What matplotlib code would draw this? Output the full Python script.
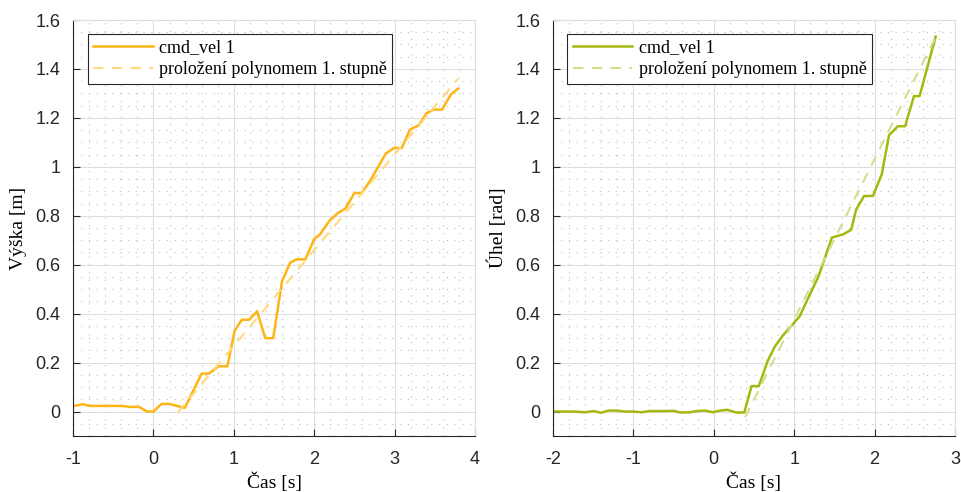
import numpy as np
import matplotlib
matplotlib.use('Agg')
import matplotlib.pyplot as plt
from matplotlib.ticker import MultipleLocator

# --- data ---
# left panel: height of the drone after cmd_vel step
vyska_t = [-1.0, -0.88, -0.79, -0.40, -0.29, -0.18, -0.08, 0.0, 0.10, 0.20,
           0.39, 0.60, 0.69, 0.81, 0.92, 1.01, 1.10, 1.19, 1.29, 1.39,
           1.49, 1.60, 1.70, 1.78, 1.89, 2.0, 2.07, 2.19, 2.29, 2.39,
           2.50, 2.59, 2.69, 2.89, 2.99, 3.09, 3.19, 3.30, 3.40, 3.49,
           3.59, 3.70, 3.79]
vyska = [0.022, 0.030, 0.023, 0.023, 0.019, 0.019, 0.0, 0.0, 0.031, 0.031,
         0.015, 0.155, 0.155, 0.185, 0.185, 0.33, 0.375, 0.375, 0.41, 0.30,
         0.30, 0.533, 0.608, 0.622, 0.622, 0.705, 0.723, 0.78, 0.81, 0.83,
         0.893, 0.893, 0.94, 1.054, 1.077, 1.077, 1.152, 1.17, 1.22, 1.234,
         1.234, 1.296, 1.32]
vyska_fit_t = [0.30, 3.79]
vyska_fit = [-0.005, 1.36]

# right panel: yaw angle
uhel_t = [-2.0, -1.75, -1.60, -1.50, -1.40, -1.31, -1.21, -1.10, -1.0, -0.90,
          -0.80, -0.59, -0.50, -0.42, -0.30, -0.21, -0.11, -0.01, 0.08, 0.17,
          0.28, 0.38, 0.47, 0.56, 0.67, 0.76, 0.86, 0.97, 1.07, 1.18,
          1.30, 1.47, 1.61, 1.71, 1.77, 1.87, 1.98, 2.09, 2.18, 2.29,
          2.38, 2.49, 2.56, 2.76]
uhel = [0.0, 0.0, -0.003, 0.002, -0.005, 0.004, 0.004, 0.0, 0.0, -0.003,
        0.002, 0.002, 0.003, -0.004, -0.003, 0.002, 0.004, -0.003, 0.004, 0.007,
        -0.004, -0.004, 0.104, 0.104, 0.206, 0.266, 0.311, 0.352, 0.39, 0.468,
        0.55, 0.711, 0.724, 0.743, 0.825, 0.881, 0.881, 0.97, 1.129, 1.166,
        1.166, 1.289, 1.289, 1.532]
uhel_fit_t = [0.39, 2.77]
uhel_fit = [-0.023, 1.536]

panels = [
    dict(t=vyska_t, y=vyska, ft=vyska_fit_t, fy=vyska_fit, xlim=(-1, 4),
         ylabel='Výška [m]', color='#FDB515', fcolor='#FFD980'),
    dict(t=uhel_t, y=uhel, ft=uhel_fit_t, fy=uhel_fit, xlim=(-2, 3),
         ylabel='Úhel [rad]', color='#A6B80F', fcolor='#D3DE8C'),
]

SERIF = 'Liberation Serif'
plt.rcParams['font.family'] = ['Liberation Sans', 'DejaVu Sans']

fig = plt.figure(figsize=(9.61, 4.92), dpi=100)
lefts = [0.076, 0.5754]

for left, p in zip(lefts, panels):
    ax = fig.add_axes([left, 0.1138, 0.4183, 0.8455])
    ax.plot(p['t'], p['y'], color=p['color'], lw=1.8, label='cmd_vel 1')
    ax.plot(p['ft'], p['fy'], color=p['fcolor'], lw=1.5, ls=(0, (5, 4)),
            label='proložení polynomem 1. stupně')

    ax.set_xlim(*p['xlim'])
    ax.set_ylim(-0.1, 1.6)
    ax.xaxis.set_major_locator(MultipleLocator(1))
    ax.xaxis.set_minor_locator(MultipleLocator(0.2))
    ax.yaxis.set_major_locator(MultipleLocator(0.2))
    ax.yaxis.set_minor_locator(MultipleLocator(0.05))
    ax.set_yticks(np.arange(0, 1.61, 0.2))
    ax.set_yticklabels(['0', '0.2', '0.4', '0.6', '0.8', '1', '1.2', '1.4', '1.6'])
    ax.set_xticklabels([str(int(v)) for v in ax.get_xticks()])

    ax.grid(which='major', color='#DEDEDE', lw=0.8)
    ax.grid(which='minor', color='#BDBDBD', lw=0.8, ls=(0, (1, 6)))
    ax.set_axisbelow(True)

    ax.tick_params(which='major', direction='in', length=5, width=0.8,
                   color='#262626', labelsize=13, labelcolor='#262626')
    ax.tick_params(axis='x', pad=11)
    ax.tick_params(axis='y', pad=9)
    ax.tick_params(which='minor', length=0)
    ax.tick_params(top=False, right=False)
    for side in ['left', 'bottom']:
        ax.spines[side].set_color('#262626')
        ax.spines[side].set_linewidth(0.8)
    for side in ['top', 'right']:
        ax.spines[side].set_color('#DEDEDE')
        ax.spines[side].set_linewidth(0.8)

    ax.set_xlabel('Čas [s]', family=SERIF, fontsize=14, labelpad=3)
    ax.set_ylabel(p['ylabel'], family=SERIF, fontsize=14, labelpad=6)

    leg = ax.legend(loc='upper left', bbox_to_anchor=(0.036, 0.966),
                    prop={'family': SERIF, 'size': 13}, frameon=True,
                    fancybox=False, framealpha=1, edgecolor='#262626',
                    handlelength=3.3, handletextpad=0.35, borderpad=0.3,
                    labelspacing=0.25, borderaxespad=0)
    leg.get_frame().set_linewidth(0.8)

fig.savefig('out.png', dpi=100)
